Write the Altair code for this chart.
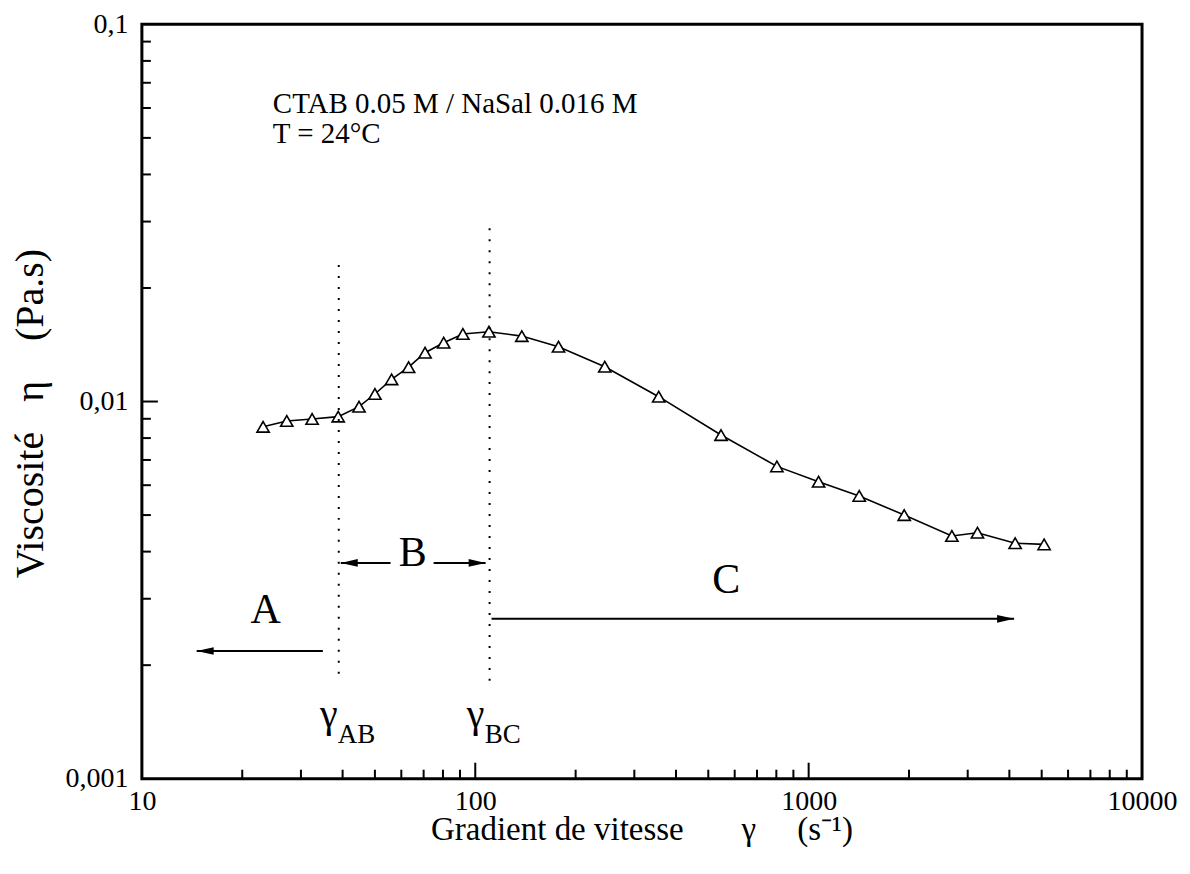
import altair as alt
import pandas as pd

# ---------------- data ----------------
shear_rate = [23.1, 27.2, 32.4, 38.8, 44.8, 50.0, 56.1, 63.1, 70.7, 80.4, 91.8,
              109.9, 137.9, 177.7, 244.6, 355, 546, 803, 1071, 1418, 1935,
              2689, 3209, 4163, 5085]
viscosity = [0.00857, 0.00888, 0.00899, 0.00912, 0.00969, 0.01047, 0.01145,
             0.01233, 0.01347, 0.01432, 0.0151, 0.01531, 0.01491, 0.01397,
             0.01237, 0.0103, 0.00815, 0.00673, 0.00613, 0.00562, 0.0050,
             0.0044, 0.00449, 0.00421, 0.00418]

x_tick_labels = [10, 100, 1000, 10000]
y_tick_labels = [0.001, 0.01, 0.1]
x_minor_ticks = [20, 30, 40, 50, 60, 70, 80, 90,
                 200, 300, 400, 500, 600, 700, 800, 900,
                 2000, 3000, 4000, 5000, 6000, 7000, 8000, 9000]
x_major_ticks = [100, 1000]
y_minor_ticks = [0.002, 0.003, 0.004, 0.005, 0.006, 0.007, 0.008, 0.009,
                 0.02, 0.03, 0.04, 0.05, 0.06, 0.07, 0.08, 0.09]
y_major_ticks = [0.01]

# transitions (dotted vertical lines)
transition_x = [38.95, 110.4]
transition_top = [0.0230, 0.0288]
transition_bottom = [0.00183, 0.00179]

# gamma labels
gamma_x = [36.4, 100.2]
gamma_y = [0.001373, 0.001373]
gamma_sub = ["AB", "BC"]
gamma_sub_x = [38.7, 106.7]
gamma_sub_y = [0.001246, 0.001246]

# regions
region_labels = ["A", "B", "C"]
region_label_x = [23.5, 64.9, 566]
region_label_y = [0.0028, 0.00397, 0.00337]

# arrows: start -> tip
arrow_start_x = [34.9, 55.7, 75.0, 111.9]
arrow_tip_x = [14.6, 39.5, 107.4, 4134]
arrow_y = [0.00218, 0.003734, 0.003734, 0.002654]
arrow_dir = ["left", "left", "right", "right"]

# annotation
note_lines = ["CTAB 0.05 M / NaSal 0.016 M", "T = 24°C"]
note_x = [24.7, 24.7]
note_y = [0.0583, 0.0485]

FONT = "Liberation Serif"
W, H = 1001, 755

X = alt.Scale(type="log", domain=[10, 10000], nice=False)
Y = alt.Scale(type="log", domain=[0.001, 0.1], nice=False)

nb = "\u00a0"
x_title = "Gradient de vitesse" + nb * 7 + "γ" + nb * 5 + "(s⁻¹)"
y_title = "Viscosité" + nb * 3 + "η" + nb * 4 + "(Pa.s)"

AX_X = alt.Axis(
    values=x_tick_labels, format="d", domain=False, ticks=False, tickSize=0,
    grid=False, labelFont=FONT, labelFontSize=28, labelColor="black",
    labelPadding=9, labelFlush=False, labelOverlap=False,
    title=x_title, titleFont=FONT, titleFontSize=33, titleFontWeight="normal",
    titleColor="black", titleX=500, titleY=61, titleAlign="center",
    titleBaseline="alphabetic")
AX_Y = alt.Axis(
    values=y_tick_labels, labelExpr="replace(toString(datum.value), '.', ',')",
    domain=False, ticks=False, tickSize=0, grid=False,
    labelFont=FONT, labelFontSize=28, labelColor="black", labelPadding=14,
    labelFlush=False, labelOverlap=False,
    title=y_title, titleFont=FONT, titleFontSize=40, titleFontWeight="normal",
    titleColor="black", titleAngle=270, titleX=-111, titleY=389,
    titleAlign="center", titleBaseline="middle")


def xq(field):
    return alt.X(field, scale=X, axis=AX_X, title=x_title)


def yq(field):
    return alt.Y(field, scale=Y, axis=AX_Y, title=y_title)


curve = pd.DataFrame({"rate": shear_rate, "eta": viscosity})

line = alt.Chart(curve).mark_line(color="black", strokeWidth=1.6).encode(
    x=xq("rate:Q"), y=yq("eta:Q"))

points = alt.Chart(curve).mark_point(
    shape="triangle-up", filled=True, fill="white", stroke="black",
    strokeWidth=1.6, size=150, opacity=1,
).encode(x=xq("rate:Q"), y=yq("eta:Q"))


# ticks (inward)
def xticks(vals, length):
    return alt.Chart(pd.DataFrame({"v": vals})).mark_rule(color="black", strokeWidth=2).encode(
        x=xq("v:Q"), y=alt.value(H), y2=alt.value(H - length))


def yticks(vals, length):
    return alt.Chart(pd.DataFrame({"v": vals})).mark_rule(color="black", strokeWidth=2).encode(
        y=yq("v:Q"), x=alt.value(0), x2=alt.value(length))


trans = pd.DataFrame({"x": transition_x, "top": transition_top, "bot": transition_bottom})
dotted = alt.Chart(trans).mark_rule(color="black", strokeWidth=2, strokeDash=[2, 9]).encode(
    x=xq("x:Q"), y=yq("top:Q"), y2="bot:Q")

gam = pd.DataFrame({"x": gamma_x, "y": gamma_y, "t": ["γ", "γ"]})
gamma_text = alt.Chart(gam).mark_text(font=FONT, fontSize=40, align="center",
                                      baseline="alphabetic", color="black").encode(
    x=xq("x:Q"), y=yq("y:Q"), text="t:N")

sub = pd.DataFrame({"x": gamma_sub_x, "y": gamma_sub_y, "t": gamma_sub})
sub_text = alt.Chart(sub).mark_text(font=FONT, fontSize=27, align="left",
                                    baseline="alphabetic", color="black").encode(
    x=xq("x:Q"), y=yq("y:Q"), text="t:N")

reg = pd.DataFrame({"x": region_label_x, "y": region_label_y, "t": region_labels})
reg_text = alt.Chart(reg).mark_text(font=FONT, fontSize=42, align="center",
                                    baseline="middle", color="black").encode(
    x=xq("x:Q"), y=yq("y:Q"), text="t:N")

arr = pd.DataFrame({"x0": arrow_start_x, "x1": arrow_tip_x, "y": arrow_y, "dir": arrow_dir})
arrow_lines = alt.Chart(arr).mark_rule(color="black", strokeWidth=2).encode(
    x=xq("x0:Q"), x2="x1:Q", y=yq("y:Q"))

left_head = alt.Chart(arr).transform_filter(alt.datum.dir == "left").mark_point(
    shape="M0,0 L2,-0.45 L2,0.45 Z", filled=True, color="black", size=289, opacity=1
).encode(x=xq("x1:Q"), y=yq("y:Q"))

right_head = alt.Chart(arr).transform_filter(alt.datum.dir == "right").mark_point(
    shape="M0,0 L-2,-0.45 L-2,0.45 Z", filled=True, color="black", size=289, opacity=1
).encode(x=xq("x1:Q"), y=yq("y:Q"))

note = pd.DataFrame({"x": note_x, "y": note_y, "t": note_lines})
note_text = alt.Chart(note).mark_text(font=FONT, fontSize=29, align="left",
                                      baseline="alphabetic", color="black").encode(
    x=xq("x:Q"), y=yq("y:Q"), text="t:N")

chart = alt.layer(
    line, points,
    xticks(x_minor_ticks, 9), xticks(x_major_ticks, 16),
    yticks(y_minor_ticks, 9), yticks(y_major_ticks, 16),
    dotted, gamma_text, sub_text, reg_text,
    arrow_lines, left_head, right_head, note_text,
).properties(
    width=W, height=H,
    autosize=alt.AutoSizeParams(type="none"),
    padding={"left": 134, "top": 16, "right": 40, "bottom": 80},
    background="white",
).configure_view(stroke="black", strokeWidth=3)

chart.save("out.html", embed_options={"renderer": "svg", "actions": False})
